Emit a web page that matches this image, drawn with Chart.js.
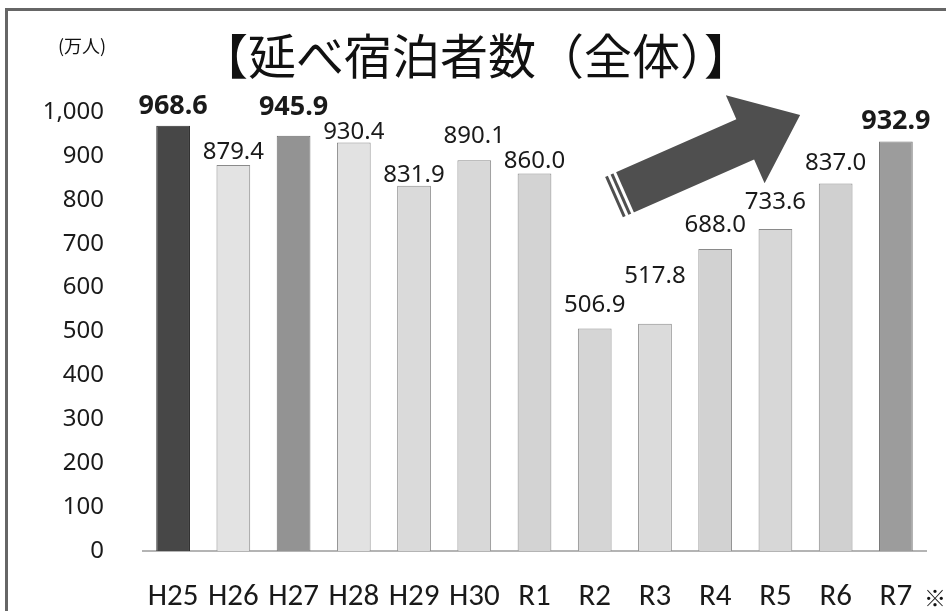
<!DOCTYPE html>
<html>
<head>
<meta charset="utf-8">
<script src="https://cdn.jsdelivr.net/npm/chart.js@4"></script>
<style>
  html, body { margin: 0; padding: 0; background: #fff; }
  canvas { display: block; }
</style>
</head>
<body>
<canvas id="stayChart" width="946" height="611"></canvas>
<script>
// 年度と延べ宿泊者数（万人）
const years = ['H25', 'H26', 'H27', 'H28', 'H29', 'H30', 'R1', 'R2', 'R3', 'R4', 'R5', 'R6', 'R7'];
const guests = [968.6, 879.4, 945.9, 930.4, 831.9, 890.1, 860.0, 506.9, 517.8, 688.0, 733.6, 837.0, 932.9];
const yTickLabels = ['0', '100', '200', '300', '400', '500', '600', '700', '800', '900', '1,000'];

// 見た目の設定
const barColors = ['#474747', '#e3e3e3', '#939393', '#e2e2e2', '#dadada', '#d8d8d8', '#d3d3d3',
                   '#d5d5d5', '#dbdbdb', '#d2d2d2', '#d7d7d7', '#d0d0d0', '#9c9c9c'];
const borderColors = ['#2e2e2e', '#8a8a8a', '#6e6e6e', '#8a8a8a', '#8a8a8a', '#8a8a8a', '#8a8a8a',
                      '#8a8a8a', '#8a8a8a', '#8a8a8a', '#8a8a8a', '#8a8a8a', '#777777'];
const boldLabels = [true, false, true, false, false, false, false, false, false, false, false, false, true];
const labelLift = [19, 13, 28, 10, 11, 24, 12, 23, 48, 24, 27, 20, 20];

const jpFont = "'Noto Sans CJK JP', 'Noto Sans', sans-serif";
const numFont = "'Noto Sans', 'Open Sans', sans-serif";
const narrowFont = "'Carlito', 'Liberation Sans Narrow', 'Noto Sans', sans-serif";

const decorPlugin = {
    id: 'decor',
    beforeDraw(chart) {
        const ctx = chart.ctx;
        ctx.save();
        // 枠線
        ctx.fillStyle = '#666';
        ctx.fillRect(5, 8, 941, 3);
        ctx.fillRect(5, 8, 3, 603);
        ctx.restore();
    },
    afterDatasetsDraw(chart) {
        const ctx = chart.ctx;
        const x = chart.scales.x;
        const y = chart.scales.y;
        ctx.save();

        // タイトルと単位
        ctx.fillStyle = '#111';
        ctx.textAlign = 'center';
        ctx.textBaseline = 'middle';
        ctx.font = '48px ' + jpFont;
        ctx.fillText('【延べ宿泊者数（全体）】', 476, 56);
        ctx.font = '18px ' + jpFont;
        ctx.fillText('(万人)', 82, 46);
        ctx.font = '22px ' + jpFont;
        ctx.fillText('※', 935, 598);

        // 値ラベル
        const meta = chart.getDatasetMeta(0);
        meta.data.forEach((bar, i) => {
            ctx.font = (boldLabels[i] ? 'bold 27px ' : '24px ') + numFont;
            ctx.fillStyle = '#1a1a1a';
            ctx.fillText(guests[i].toFixed(1), bar.x, bar.y - labelLift[i]);
        });

        // 右上がりの矢印
        const step = x.getPixelForValue(1) - x.getPixelForValue(0);
        const px = v => x.getPixelForValue(0) + v * step;
        const tx = px(7.32), ty = y.getPixelForValue(806);
        const hx = px(10.41), hy = y.getPixelForValue(993);
        const len = Math.hypot(hx - tx, hy - ty);
        const ang = Math.atan2(hy - ty, hx - tx);
        const half = 22, headHalf = 48, headLen = 60;
        ctx.translate(tx, ty);
        ctx.rotate(ang);
        ctx.fillStyle = '#4f4f4f';
        ctx.beginPath();
        ctx.moveTo(0, -half);
        ctx.lineTo(len - headLen, -half);
        ctx.lineTo(len - headLen, -headHalf);
        ctx.lineTo(len, 0);
        ctx.lineTo(len - headLen, headHalf);
        ctx.lineTo(len - headLen, half);
        ctx.lineTo(0, half);
        ctx.closePath();
        ctx.fill();
        ctx.fillStyle = '#fff';
        ctx.fillRect(3, -half - 1, 3, half * 2 + 2);
        ctx.fillRect(9, -half - 1, 3, half * 2 + 2);
        ctx.restore();
    }
};

const ctx = document.getElementById('stayChart').getContext('2d');
const stayChart = new Chart(ctx, {
    type: 'bar',
    data: {
        labels: years,
        datasets: [{
            data: guests,
            backgroundColor: barColors,
            borderColor: borderColors,
            borderWidth: 1,
            barPercentage: 0.56,
            categoryPercentage: 1.0
        }]
    },
    options: {
        responsive: false,
        animation: false,
        devicePixelRatio: 1,
        layout: {
            padding: { top: 112, right: 20, bottom: 3, left: 0 }
        },
        plugins: {
            legend: { display: false },
            title: { display: false },
            tooltip: { enabled: false }
        },
        scales: {
            x: {
                afterFit(scale) { scale.height = 57; },
                grid: { display: false, drawTicks: false },
                border: { display: true, color: '#b4b4b4', width: 2, dash: [1, 2] },
                ticks: {
                    color: '#1a1a1a',
                    padding: 31,
                    font: { family: narrowFont, size: 31, lineHeight: 1.0 }
                }
            },
            y: {
                min: 0,
                max: 1000,
                afterFit(scale) { scale.width = 143; },
                grid: { display: false, drawTicks: false },
                border: { display: false },
                ticks: {
                    stepSize: 100,
                    color: '#1a1a1a',
                    padding: 39,
                    font: { family: numFont, size: 24 },
                    callback: (value, index) => yTickLabels[index]
                }
            }
        }
    },
    plugins: [decorPlugin]
});
</script>
</body>
</html>
